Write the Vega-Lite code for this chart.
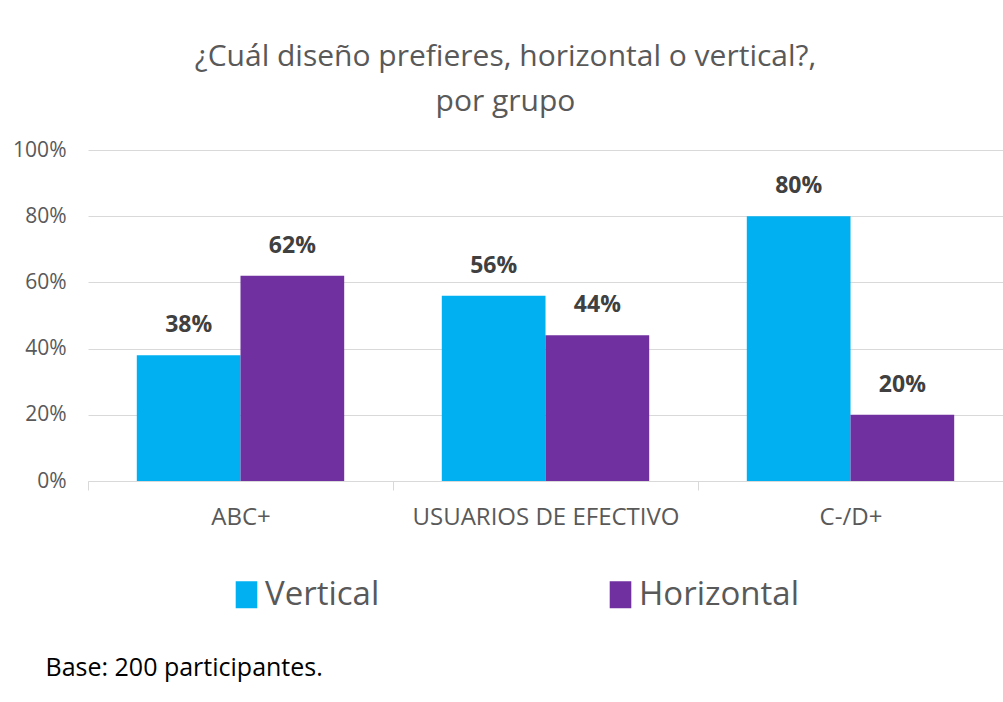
{
  "$schema": "https://vega.github.io/schema/vega-lite/v6.json",
  "width": 915,
  "height": 331,
  "autosize": {"type": "none"},
  "padding": {"left": 88, "top": 150, "right": 0, "bottom": 221},
  "background": "white",
  "config": {
    "font": "Open Sans",
    "view": {"stroke": null}
  },
  "title": {
    "text": ["¿Cuál diseño prefieres, horizontal o vertical?,", "por grupo"],
    "fontSize": 30,
    "fontWeight": "normal",
    "color": "#595959",
    "font": "Open Sans",
    "lineHeight": 45,
    "anchor": "middle",
    "dx": -40,
    "offset": 22
  },
  "data": {
    "values": [
      {"grupo": "ABC+", "diseno": "Vertical", "valor": 0.38},
      {"grupo": "ABC+", "diseno": "Horizontal", "valor": 0.62},
      {"grupo": "USUARIOS DE EFECTIVO", "diseno": "Vertical", "valor": 0.56},
      {"grupo": "USUARIOS DE EFECTIVO", "diseno": "Horizontal", "valor": 0.44},
      {"grupo": "C-/D+", "diseno": "Vertical", "valor": 0.80},
      {"grupo": "C-/D+", "diseno": "Horizontal", "valor": 0.20}
    ]
  },
  "encoding": {
    "x": {
      "field": "grupo",
      "type": "nominal",
      "sort": ["ABC+", "USUARIOS DE EFECTIVO", "C-/D+"],
      "scale": {"paddingInner": 0.32, "paddingOuter": 0.16},
      "axis": {
        "title": "Base: 200 participantes.",
        "titleX": -43,
        "titleY": 186,
        "titleAlign": "left",
        "titleAnchor": "start",
        "titleBaseline": "middle",
        "titleFontSize": 25,
        "titleFontWeight": "normal",
        "titleColor": "#000000",
        "titleFont": "Open Sans",
        "labelAngle": 0,
        "labelFontSize": 24,
        "labelColor": "#595959",
        "labelPadding": 15,
        "labelLimit": 400,
        "labelOffset": 152.5,
        "tickOffset": -152.5,
        "domainColor": "#d9d9d9",
        "tickColor": "#d9d9d9",
        "tickSize": 9,
        "grid": false
      }
    },
    "xOffset": {
      "field": "diseno",
      "type": "nominal",
      "sort": ["Vertical", "Horizontal"],
      "scale": {"paddingInner": 0, "paddingOuter": 0}
    },
    "y": {
      "field": "valor",
      "type": "quantitative",
      "scale": {"domain": [0, 1]},
      "axis": {
        "title": null,
        "format": ".0%",
        "values": [0, 0.2, 0.4, 0.6, 0.8, 1],
        "labelFontSize": 21,
        "labelColor": "#595959",
        "labelPadding": 22,
        "domain": false,
        "ticks": false,
        "gridColor": "#d9d9d9",
        "gridWidth": 1
      }
    }
  },
  "layer": [
    {
      "mark": {"type": "bar"},
      "encoding": {
        "color": {
          "field": "diseno",
          "type": "nominal",
          "sort": ["Vertical", "Horizontal"],
          "scale": {"domain": ["Vertical", "Horizontal"], "range": ["#00B0F0", "#7030A0"]},
          "legend": {
            "title": null,
            "orient": "none",
            "legendX": 142,
            "legendY": 428,
            "direction": "horizontal",
            "columns": 2,
            "columnPadding": 224,
            "labelFontSize": 33,
            "labelColor": "#595959",
            "labelFont": "Open Sans",
            "labelOffset": 2,
            "labelLimit": 300,
            "symbolType": "M-0.8,-1H0.8V1H-0.8Z",
            "symbolSize": 729,
            "symbolStrokeWidth": 0
          }
        }
      }
    },
    {
      "mark": {"type": "text", "baseline": "alphabetic", "dy": -23, "fontSize": 23, "fontWeight": "bold", "color": "#404040", "font": "Open Sans"},
      "encoding": {
        "text": {"field": "valor", "type": "quantitative", "format": ".0%"}
      }
    }
  ]
}
